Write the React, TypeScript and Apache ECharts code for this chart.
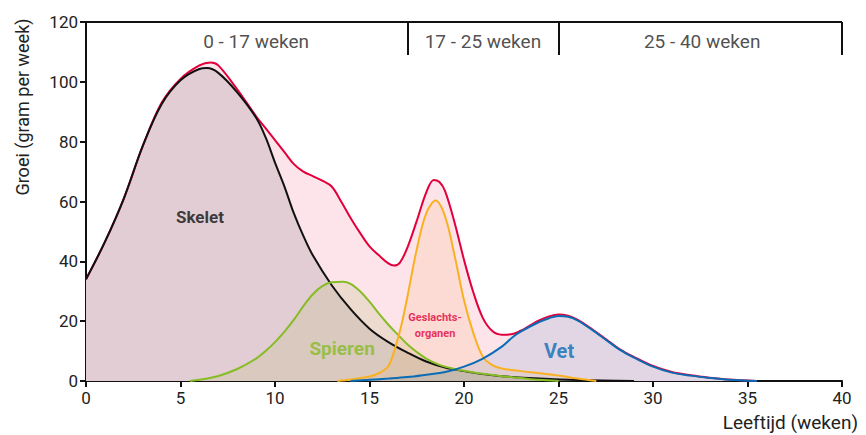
import React, { useEffect, useRef } from "react";
import * as echarts from "echarts";

const FONT = "Roboto, 'DejaVu Sans', sans-serif";

const xTicks = [0, 5, 10, 15, 20, 25, 30, 35, 40];
const yTicks = [0, 20, 40, 60, 80, 100, 120];

const totalX = [0, 1, 2, 3, 4, 5, 6, 6.6, 7, 8, 9, 9.5, 10, 10.5, 11, 11.5, 12, 12.5, 13, 13.5, 14, 14.5, 15, 15.5, 16, 16.3, 16.6, 17, 17.5, 18, 18.4, 18.7, 19, 19.5, 20, 20.5, 21, 21.5, 22, 22.5, 23, 23.5, 24, 24.5, 25, 25.5, 26, 26.8, 27.5, 28.25, 29, 30, 31, 32, 33, 34, 35.5];
const totalY = [34, 46.5, 61, 78.5, 93, 101, 105.5, 106.5, 105.5, 97.5, 88.5, 84.5, 80.5, 76.5, 72.5, 70, 68.5, 67, 65, 60, 54.5, 49.5, 45, 42, 39.3, 38.6, 39.5, 44.5, 53.5, 63, 67.2, 66.5, 63.5, 53, 40.5, 29.5, 21, 16.7, 15.5, 15.6, 16.8, 18.6, 20.3, 21.6, 22.2, 21.8, 20.5, 17.2, 14, 10.6, 8, 5, 3, 1.9, 1.1, 0.5, 0];

const skeletX = [0, 1, 2, 3, 4, 5, 6, 6.4, 7, 8, 9, 9.5, 10, 10.5, 11, 11.5, 12, 13, 14, 15, 16, 17, 18, 19, 20, 21, 22, 24, 26, 29];
const skeletY = [34, 46.5, 61, 78.5, 92.5, 100.5, 104.3, 104.6, 103, 96.5, 88, 81.5, 73, 65, 56, 48.5, 42, 32, 24, 17.5, 13, 9.5, 6.5, 4.5, 3.3, 2.3, 1.6, 0.8, 0.3, 0];

const spierenX = [5.5, 6, 7, 8, 9, 9.5, 10, 10.5, 11, 11.5, 12, 12.5, 13, 13.6, 14, 14.5, 15, 15.5, 16, 16.5, 17, 17.5, 18, 18.7, 19.5, 20.3, 21, 22, 23, 24, 25];
const spierenY = [0, 0.4, 1.7, 4, 7.5, 10, 13, 16.5, 20.5, 25, 29, 31.7, 33, 33.2, 32.5, 30, 26.5, 22.5, 18.8, 15.5, 12.3, 9.7, 7.5, 5.4, 4, 3.1, 2.4, 1.6, 1, 0.4, 0];

const geslachtX = [13.3, 14, 15, 15.5, 16, 16.4, 16.7, 17, 17.5, 18, 18.5, 19, 19.5, 20, 20.5, 21, 21.5, 22, 23, 24, 25, 26, 27];
const geslachtY = [0, 0.5, 1.5, 2.6, 5, 12, 19, 28, 44, 56, 60.3, 55, 42, 27, 15.9, 8.1, 5.3, 4.2, 3.3, 2.6, 1.8, 0.8, 0];

const vetX = [14, 15, 16, 17, 18, 19, 20, 21, 22, 22.6, 23, 24, 24.5, 25, 25.5, 26, 26.8, 27.5, 28.25, 29, 30, 31, 32, 33, 34, 35.5];
const vetY = [0, 0.4, 0.8, 1.3, 2.1, 3, 4.8, 7.5, 11.5, 14.8, 16.5, 19.8, 21, 21.7, 21.5, 20.3, 17, 13.8, 10.4, 7.8, 4.8, 2.8, 1.8, 1, 0.4, 0];

const periodBounds = [0, 17, 25, 40];
const periodTop = 120;
const periodDividerBottom = 109;
const periodLabels = ["0 - 17 weken", "17 - 25 weken", "25 - 40 weken"];
const periodLabelX = [9, 21, 32.6];
const periodLabelY = 113.5;

const areaNames = ["Skelet", "Spieren", "Geslachts-\norganen", "Vet"];
const areaLabelX = [6.03, 13.55, 18.47, 25.03];
const areaLabelY = [54.8, 11, 18.7, 10];

const zip = (xs: number[], ys: number[]) => xs.map((x, i) => [x, ys[i]]);

const RED = "#e2003c";
const BLACK = "#111111";
const GREEN = "#86bc25";
const ORANGE = "#f9b122";
const BLUE = "#0a6cb5";

export default function App() {
  const ref = useRef<HTMLDivElement>(null);
  useEffect(() => {
    if (!ref.current) return;
    const chart = echarts.init(ref.current, undefined, { renderer: "svg" });
    const curves = [
      { name: "Totaal", data: zip(totalX, totalY), line: RED, fill: "#fce4ea" },
      { name: "Skelet", data: zip(skeletX, skeletY), line: BLACK, fill: "#e1cdd3" },
      { name: "Spieren", data: zip(spierenX, spierenY), line: GREEN, fill: "rgba(190,185,120,0.22)" },
      { name: "Geslachtsorganen", data: zip(geslachtX, geslachtY), line: ORANGE, fill: "rgba(249,160,60,0.12)" },
      { name: "Vet", data: zip(vetX, vetY), line: BLUE, fill: "rgba(10,100,180,0.1)" },
    ];
    const areaSeries = curves.map((c) => ({
      type: "line",
      name: c.name + "-area",
      data: c.data,
      smooth: 0.35,
      showSymbol: false,
      symbol: "none",
      lineStyle: { width: 0 },
      areaStyle: { color: c.fill, opacity: 1 },
      z: 1,
      silent: true,
    }));
    const lineSeries = curves.map((c, i) => ({
      type: "line",
      name: c.name,
      data: c.data,
      smooth: 0.35,
      symbol: "none",
      showSymbol: false,
      lineStyle: { color: c.line, width: 2 },
      z: 3 + i,
      silent: true,
    }));
    const bracketLines = [
      { coords: [[periodBounds[0], periodTop], [periodBounds[periodBounds.length - 1], periodTop]] },
      ...periodBounds.slice(1).map((b) => ({ coords: [[b, periodTop], [b, periodDividerBottom]] })),
    ];
    const labelColors = [BLACK, GREEN, RED, BLUE];
    const labelSizes = [17, 19, 11, 20];
    const option: any = {
      animation: false,
      textStyle: { fontFamily: FONT },
      grid: { left: 86, right: 24, top: 22, bottom: 54, containLabel: false },
      xAxis: {
        type: "value",
        min: xTicks[0],
        max: xTicks[xTicks.length - 1],
        interval: 5,
        axisLine: { show: true, onZero: false, lineStyle: { color: BLACK, width: 2 } },
        axisTick: { show: true, length: 6, lineStyle: { color: BLACK, width: 2 } },
        axisLabel: { color: "#222", fontSize: 17, fontFamily: FONT, margin: 8 },
        splitLine: { show: false },
      },
      yAxis: {
        type: "value",
        min: yTicks[0],
        max: yTicks[yTicks.length - 1],
        interval: 20,
        axisLine: { show: true, lineStyle: { color: BLACK, width: 2 } },
        axisTick: { show: true, length: 6, lineStyle: { color: BLACK, width: 2 } },
        axisLabel: { color: "#222", fontSize: 17, fontFamily: FONT, margin: 8 },
        splitLine: { show: false },
      },
      series: [
        ...areaSeries,
        ...lineSeries,
        {
          type: "lines",
          coordinateSystem: "cartesian2d",
          polyline: false,
          clip: false,
          silent: true,
          lineStyle: { color: BLACK, width: 2, opacity: 1 },
          data: bracketLines,
          z: 10,
        },
        {
          type: "scatter",
          symbolSize: 0,
          silent: true,
          z: 11,
          data: periodLabels.map((t, i) => ({
            value: [periodLabelX[i], periodLabelY],
            label: {
              show: true,
              position: "inside",
              formatter: t,
              color: "#222",
              fontSize: 19,
              fontFamily: FONT,
            },
          })),
        },
        {
          type: "scatter",
          symbolSize: 0,
          silent: true,
          z: 11,
          data: areaNames.map((t, i) => ({
            value: [areaLabelX[i], areaLabelY[i]],
            label: {
              show: true,
              position: "inside",
              formatter: t,
              color: labelColors[i],
              fontSize: labelSizes[i],
              fontWeight: "bold",
              fontFamily: FONT,
              lineHeight: i === 2 ? 16 : undefined,
              align: "center",
            },
          })),
        },
      ],
      graphic: [
        {
          type: "text",
          x: 22,
          y: 107,
          rotation: Math.PI / 2,
          style: {
            text: "Groei (gram per week)",
            fontSize: 18,
            fontFamily: FONT,
            fill: "#222",
            textAlign: "center",
            textVerticalAlign: "middle",
          },
        },
        {
          type: "text",
          right: 8,
          top: 413,
          style: {
            text: "Leeftijd (weken)",
            fontSize: 19,
            fontFamily: FONT,
            fill: "#222",
          },
        },
      ],
    };
    chart.setOption(option);
    return () => chart.dispose();
  }, []);
  return (
    <div
      ref={ref}
      style={{ position: "fixed", left: 0, top: 0, width: 866, height: 435, background: "#fff" }}
    />
  );
}
